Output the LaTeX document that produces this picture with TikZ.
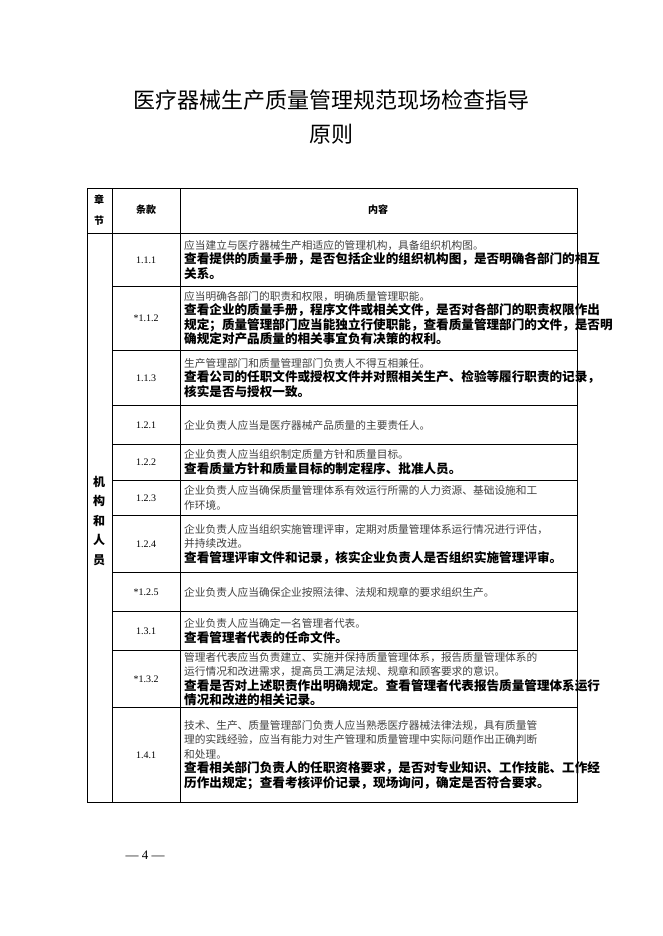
\documentclass[tikz,border=0pt]{standalone}
\usepackage{fontspec}
\setmainfont{Liberation Serif}
\newfontfamily\cjk{Noto Sans CJK SC}
\usetikzlibrary{positioning}
\newcommand{\nb}[1]{{\color{black!75}\fontsize{10.7}{14.5}\selectfont #1}}
\newcommand{\bd}[1]{{\bfseries\fontsize{12.6}{14.5}\selectfont #1}}

\begin{document}
\begin{tikzpicture}[x=1pt,y=-1pt]
        \tikzset{every node/.style={inner sep=0pt}}
        \tikzset{numcell/.style={font=\fontsize{10}{12}\selectfont}}
        \tikzset{txtcell/.style={anchor=west, align=left, font=\cjk\fontsize{10.7}{14.5}\selectfont}}
        \tikzset{gridline/.style={line width=0.6pt}}
        \useasboundingbox (0,0) rectangle (662,936);
        % title
        \node[font=\cjk\fontsize{22}{30}\selectfont] (title1) at (331,100) {医疗器械生产质量管理规范现场检查指导};
        \node[font=\cjk\fontsize{22}{30}\selectfont] (title2) at (331,134) {原则};
        % table grid
        \draw[gridline] (87,188) rectangle (577,802);
        \draw[gridline] (112,188) -- (112,802);
        \draw[gridline] (180,188) -- (180,802);
        \draw[gridline] (87,233) -- (577,233);
        \foreach \y in {286,350,405,444,480,515,572,611,650,707}
          \draw[gridline] (112,\y) -- (577,\y);
        % header
        \node[font=\cjk\bfseries\fontsize{10}{21}\selectfont, align=center] (hzj) at (99,210) {章\\节};
        \node[font=\cjk\bfseries\fontsize{10}{12}\selectfont] (htk) at (146,210) {条款};
        \node[font=\cjk\bfseries\fontsize{10}{12}\selectfont] (hnr) at (378,210) {内容};
        \node[font=\cjk\bfseries\fontsize{12}{19.5}\selectfont, align=center] (chap) at (99,521) {机\\构\\和\\人\\员};
        % clause numbers
        \node[numcell] (n111) at (146,260) {1.1.1};
        \node[numcell] (n112) at (146,318) {*1.1.2};
        \node[numcell] (n113) at (146,378) {1.1.3};
        \node[numcell] (n121) at (146,425) {1.2.1};
        \node[numcell] (n122) at (146,462) {1.2.2};
        \node[numcell] (n123) at (146,498) {1.2.3};
        \node[numcell] (n124) at (146,544) {1.2.4};
        \node[numcell] (n125) at (146,592) {*1.2.5};
        \node[numcell] (n131) at (146,631) {1.3.1};
        \node[numcell] (n132) at (146,679) {*1.3.2};
        \node[numcell] (n141) at (146,755) {1.4.1};
        % contents
        \node[txtcell] (c111) at (184,260) {\nb{应当建立与医疗器械生产相适应的管理机构，具备组织机构图。}\\\bd{查看提供的质量手册，是否包括企业的组织机构图，是否明确各部门的相互}\\\bd{关系。}};
        \node[txtcell] (c112) at (184,318) {\nb{应当明确各部门的职责和权限，明确质量管理职能。}\\\bd{查看企业的质量手册，程序文件或相关文件，是否对各部门的职责权限作出}\\\bd{规定；质量管理部门应当能独立行使职能，查看质量管理部门的文件，是否明}\\\bd{确规定对产品质量的相关事宜负有决策的权利。}};
        \node[txtcell] (c113) at (184,378) {\nb{生产管理部门和质量管理部门负责人不得互相兼任。}\\\bd{查看公司的任职文件或授权文件并对照相关生产、检验等履行职责的记录，}\\\bd{核实是否与授权一致。}};
        \node[txtcell] (c121) at (184,425) {\nb{企业负责人应当是医疗器械产品质量的主要责任人。}};
        \node[txtcell] (c122) at (184,462) {\nb{企业负责人应当组织制定质量方针和质量目标。}\\\bd{查看质量方针和质量目标的制定程序、批准人员。}};
        \node[txtcell] (c123) at (184,498) {\nb{企业负责人应当确保质量管理体系有效运行所需的人力资源、基础设施和工}\\\nb{作环境。}};
        \node[txtcell] (c124) at (184,544) {\nb{企业负责人应当组织实施管理评审，定期对质量管理体系运行情况进行评估，}\\\nb{并持续改进。}\\\bd{查看管理评审文件和记录，核实企业负责人是否组织实施管理评审。}};
        \node[txtcell] (c125) at (184,592) {\nb{企业负责人应当确保企业按照法律、法规和规章的要求组织生产。}};
        \node[txtcell] (c131) at (184,631) {\nb{企业负责人应当确定一名管理者代表。}\\\bd{查看管理者代表的任命文件。}};
        \node[txtcell] (c132) at (184,679) {\nb{管理者代表应当负责建立、实施并保持质量管理体系，报告质量管理体系的}\\\nb{运行情况和改进需求，提高员工满足法规、规章和顾客要求的意识。}\\\bd{查看是否对上述职责作出明确规定。查看管理者代表报告质量管理体系运行}\\\bd{情况和改进的相关记录。}};
        \node[txtcell] (c141) at (184,755) {\nb{技术、生产、质量管理部门负责人应当熟悉医疗器械法律法规，具有质量管}\\\nb{理的实践经验，应当有能力对生产管理和质量管理中实际问题作出正确判断}\\\nb{和处理。}\\\bd{查看相关部门负责人的任职资格要求，是否对专业知识、工作技能、工作经}\\\bd{历作出规定；查看考核评价记录，现场询问，确定是否符合要求。}};
        % page number
        \node[font=\fontsize{13}{15}\selectfont] (page) at (145,855) {— 4 —};
\end{tikzpicture}
\end{document}
